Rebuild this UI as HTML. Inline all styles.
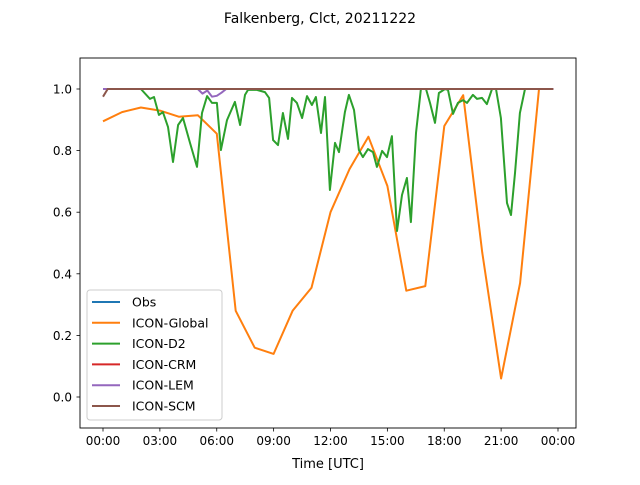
<!DOCTYPE html>
<html><head><meta charset="utf-8"><style>
body{margin:0;background:#fff}
svg text{font-family:"DejaVu Sans","Liberation Sans",sans-serif;fill:#000}
</style></head><body>
<svg id="chart" width="640" height="480" xmlns="http://www.w3.org/2000/svg">
<rect width="640" height="480" fill="#fff"/>
<text x="320" y="23" font-size="14" text-anchor="middle">Falkenberg, Clct, 20211222</text>
<g id="series"></g>
<rect x="80" y="58" width="496" height="370" fill="none" stroke="#000" stroke-width="0.9"/>
<g id="ticks"></g>
<text x="328" y="468" font-size="13" text-anchor="middle">Time [UTC]</text>
<g id="legend"></g>
</svg>
<script>
const xTickHours=[0,3,6,9,12,15,18,21,24];
const xTickLabels=["00:00","03:00","06:00","09:00","12:00","15:00","18:00","21:00","00:00"];
const yTicks=[0.0,0.2,0.4,0.6,0.8,1.0];
const seriesNames=["Obs","ICON-Global","ICON-D2","ICON-CRM","ICON-LEM","ICON-SCM"];
const seriesColors=["#1f77b4","#ff7f0e","#2ca02c","#d62728","#9467bd","#8c564b"];
const obsT=[0,23.75];
const obsV=[1,1];
const globalT=[0,1,2,3,4,5,6,7,8,9,10,11,12,13,14,15,16,17,18,19,20,21,22,23];
const globalV=[0.895,0.925,0.94,0.93,0.91,0.915,0.855,0.28,0.16,0.14,0.28,0.355,0.6,0.74,0.845,0.685,0.345,0.36,0.88,0.98,0.47,0.06,0.37,1.0];
const d2T=[0,2.0,2.48,2.69,2.95,3.16,3.43,3.69,3.96,4.22,4.59,4.96,5.22,5.49,5.75,6.01,6.22,6.54,6.96,7.23,7.49,7.65,8.12,8.54,8.76,8.97,9.23,9.49,9.76,9.97,10.23,10.5,10.76,11.02,11.23,11.5,11.71,11.97,12.24,12.45,12.76,12.97,13.24,13.5,13.71,13.98,14.24,14.45,14.72,14.98,15.24,15.51,15.77,16.03,16.24,16.51,16.77,17.04,17.25,17.51,17.72,18.04,18.2,18.46,18.72,18.99,19.2,19.51,19.73,19.99,20.25,20.52,20.73,20.99,21.31,21.52,21.73,21.99,22.26,23.75];
const d2V=[1,1,0.968,0.974,0.916,0.925,0.877,0.763,0.883,0.906,0.825,0.747,0.922,0.977,0.955,0.955,0.802,0.899,0.958,0.883,0.981,0.997,0.997,0.99,0.971,0.834,0.818,0.922,0.838,0.971,0.955,0.906,0.977,0.948,0.974,0.857,0.974,0.672,0.825,0.795,0.925,0.981,0.932,0.802,0.779,0.805,0.795,0.747,0.799,0.779,0.847,0.539,0.656,0.711,0.568,0.857,1,1,0.955,0.89,0.987,1,0.997,0.919,0.955,0.964,0.955,0.981,0.968,0.971,0.951,1,1,0.906,0.63,0.591,0.727,0.922,1,1];
const crmT=[0,23.75];
const crmV=[1,1];
const lemT=[0,5.0,5.25,5.5,5.75,6.0,6.25,6.5,23.75];
const lemV=[1,1,0.985,0.995,0.975,0.978,0.988,1,1];
const scmT=[0,0.25,23.75];
const scmV=[0.975,1,1];
const allT=[obsT,globalT,d2T,crmT,lemT,scmT];
const allV=[obsV,globalV,d2V,crmV,lemV,scmV];

const NS="http://www.w3.org/2000/svg";
function xS(h){return 103+h*(455/24);}
function yS(v){return 397-v*308;}
function mk(tag,attrs,parent){const e=document.createElementNS(NS,tag);for(const k in attrs)e.setAttribute(k,attrs[k]);parent.appendChild(e);return e;}
const gS=document.getElementById('series');
const keys=["obs","icon-global","icon-d2","icon-crm","icon-lem","icon-scm"];
for(let s=0;s<6;s++){
  const pts=allT[s].map((t,i)=>xS(t).toFixed(1)+","+yS(allV[s][i]).toFixed(1)).join(" ");
  const p=mk('polyline',{points:pts,fill:'none',stroke:seriesColors[s],'stroke-width':2,'stroke-linejoin':'round'},gS);
  
  
}
const gT=document.getElementById('ticks');
xTickHours.forEach((h,i)=>{
  const l=mk('line',{x1:xS(h),x2:xS(h),y1:428,y2:431.5,stroke:'#000','stroke-width':0.8},gT);
  
  
  const t=mk('text',{x:xS(h),y:445,'font-size':12,'text-anchor':'middle'},gT);
  t.textContent=xTickLabels[i];
  
  
});
yTicks.forEach(v=>{
  const l=mk('line',{x1:76.5,x2:80,y1:yS(v),y2:yS(v),stroke:'#000','stroke-width':0.8},gT);
  
  
  const t=mk('text',{x:72,y:yS(v)+4.5,'font-size':12,'text-anchor':'end'},gT);
  t.textContent=v.toFixed(1);
  
  
});
const gL=document.getElementById('legend');
const box=mk('rect',{x:87,y:290,width:135,height:130,rx:3,fill:'#fff','fill-opacity':0.8,stroke:'#ccc','stroke-width':1},gL);


seriesNames.forEach((n,i)=>{
  const y=302+i*20.8;
  const l=mk('line',{x1:92,x2:120,y1:y,y2:y,stroke:seriesColors[i],'stroke-width':2},gL);
  
  
  const t=mk('text',{x:132,y:y+4.5,'font-size':12.5},gL);
  t.textContent=n;
  
  
});
</script>
</body></html>
